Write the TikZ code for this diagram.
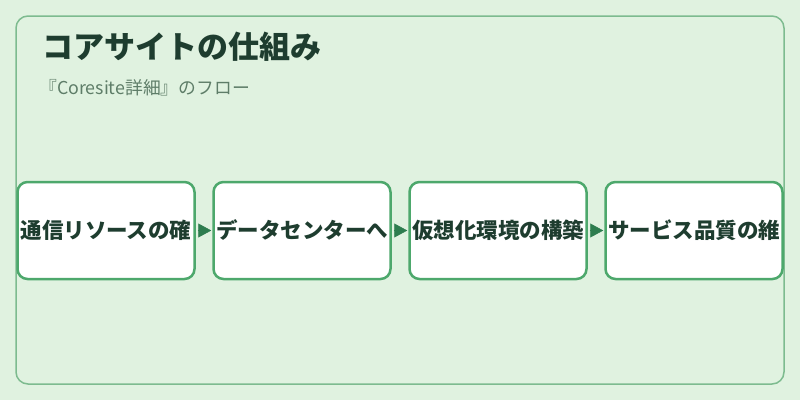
\documentclass[tikz,border=0pt]{standalone}
\usepackage{fontspec}
\setmainfont{Noto Sans CJK JP}
\usetikzlibrary{arrows.meta}
\definecolor{bgc}{HTML}{E0F2E0}
\definecolor{framec}{HTML}{7DBB8F}
\definecolor{boxc}{HTML}{4DA86C}
\definecolor{titlec}{HTML}{1E3D2F}
\definecolor{subc}{HTML}{5E7D68}
\definecolor{arrc}{HTML}{2E7D4F}
\tikzset{
  x=1pt,y=-1pt,
  stepbox/.style={draw=boxc,line width=2.5pt,fill=white,rounded corners=10pt,
    minimum width=177pt,minimum height=97pt,inner sep=0pt,text=titlec,
    font=\fontsize{21.5pt}{24pt}\selectfont\bfseries},
  flowarrow/.style={draw=arrc,line width=0.5pt,-{Triangle[length=13pt,width=14pt,fill=arrc]},shorten <=2pt,shorten >=1pt}
}
\begin{document}
\begin{tikzpicture}
\useasboundingbox (0,0) rectangle (800,400);
\fill[bgc] (0,0) rectangle (800,400);
\draw[framec,line width=1.5pt,rounded corners=12pt] (16,16) rectangle (784,384);
\node[anchor=west,text=titlec,font=\fontsize{31pt}{34pt}\selectfont\bfseries,inner sep=0pt] (title) at (42,47) {コアサイトの仕組み};
\node[anchor=west,text=subc,font=\fontsize{17.8pt}{20pt}\selectfont,inner sep=0pt] (sub) at (39,88) {『Coresite詳細』のフロー};
\node[stepbox] (b1) at (106,230.5) {通信リソースの確};
\node[stepbox] (b2) at (302,230.5) {データセンターへ};
\node[stepbox] (b3) at (498,230.5) {仮想化環境の構築};
\node[stepbox] (b4) at (694,230.5) {サービス品質の維};
\draw[flowarrow] (b1.east) -- (b2.west);
\draw[flowarrow] (b2.east) -- (b3.west);
\draw[flowarrow] (b3.east) -- (b4.west);
\end{tikzpicture}
\end{document}
